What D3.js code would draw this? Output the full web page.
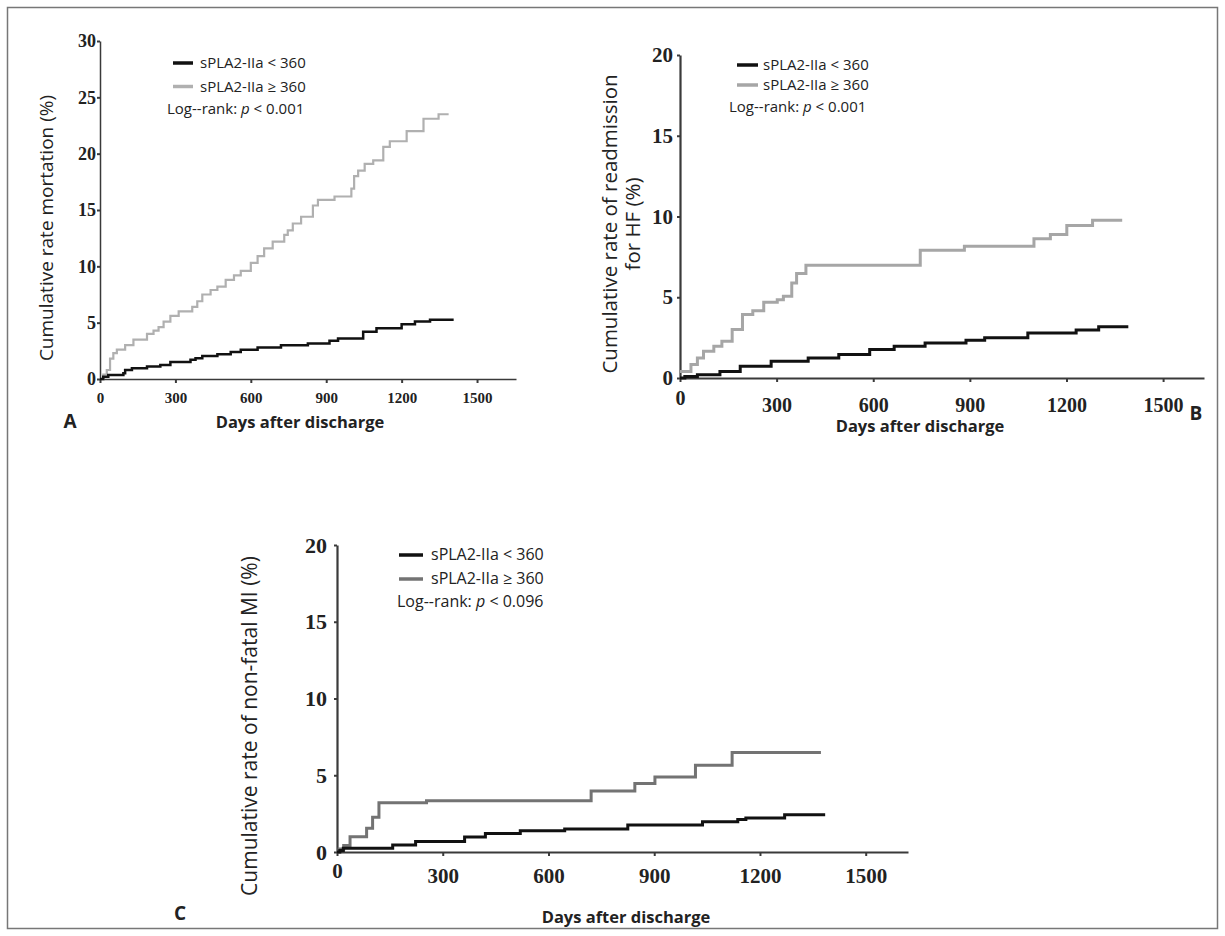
<!DOCTYPE html>
<html>
<head>
<meta charset="utf-8">
<script src="https://cdn.jsdelivr.net/npm/d3@7"></script>
<style>
  body { margin: 0; background: #fff; }
</style>
</head>
<body>
<div id="fig"></div>
<script>
// Tick labels
const dayTicks = [0, 300, 600, 900, 1200, 1500];
const yTicksMort = [0, 5, 10, 15, 20, 25, 30];
const yTicksRate = [0, 5, 10, 15, 20];

// Legend / text
const groupLabels = ["sPLA2-IIa < 360", "sPLA2-IIa \u2265 360"];
const pValues = ["0.001", "0.001", "0.096"];
const panelLetters = ["A", "B", "C"];
const yTitles = [
    ["Cumulative rate mortation (%)"],
    ["Cumulative rate of readmission", "for HF (%)"],
    ["Cumulative rate of non-fatal MI (%)"]
];
const xTitle = "Days after discharge";

// Step curves, [day, cumulative %]
const mortLow = [[0,0],[13,0.2],[33,0.35],[93,0.5],[100,0.8],[127,0.95],[187,1.1],[240,1.25],[280,1.5],
    [360,1.7],[380,1.85],[407,2.05],[467,2.2],[520,2.4],[560,2.6],[627,2.8],[720,3.0],[827,3.15],
    [913,3.4],[947,3.6],[1047,4.2],[1100,4.5],[1200,4.85],[1253,5.1],[1313,5.25],[1407,5.25]];
const mortHigh = [[0,0],[13,0.4],[27,0.8],[40,1.8],[53,2.3],[67,2.6],[100,3.0],[133,3.5],[187,4.0],
    [213,4.3],[233,4.6],[253,5.1],[280,5.6],[313,6.0],[367,6.4],[387,6.9],[407,7.5],[440,7.9],
    [467,8.2],[500,8.8],[533,9.2],[560,9.6],[600,10.3],[627,10.9],[653,11.6],[687,12.2],[733,12.8],
    [747,13.2],[767,13.8],[800,14.4],[847,15.4],[867,15.9],[933,16.2],[1000,16.9],[1011,18.0],
    [1027,18.5],[1053,19.1],[1087,19.4],[1127,20.6],[1153,21.1],[1220,22.0],[1287,23.1],[1347,23.5],[1387,23.5]];

const hfLow = [[0,0],[15,0.1],[54,0.2],[124,0.4],[187,0.72],[283,1.03],[398,1.24],[493,1.45],
    [589,1.76],[665,1.96],[761,2.17],[888,2.33],[946,2.5],[1080,2.78],[1230,2.97],[1300,3.18],[1392,3.18]];
const hfHigh = [[0,0.4],[34,0.83],[54,1.24],[73,1.65],[105,1.96],[130,2.27],[162,3.0],[194,3.93],
    [226,4.17],[260,4.69],[302,4.85],[321,5.06],[347,5.89],[362,6.47],[391,6.98],[746,7.91],
    [883,8.16],[1099,8.62],[1150,8.88],[1201,9.44],[1281,9.77],[1373,9.77]];

const miLow = [[0,0],[8,0.1],[18,0.25],[158,0.46],[223,0.68],[362,0.97],[421,1.21],[520,1.38],
    [646,1.5],[825,1.76],[1037,1.97],[1137,2.11],[1160,2.22],[1270,2.42],[1385,2.42]];
const miHigh = [[0,0],[6,0.2],[19,0.43],[37,1.0],[84,1.54],[101,2.26],[119,3.21],[254,3.34],
    [721,3.98],[845,4.46],[902,4.89],[1017,5.65],[1121,6.48],[1373,6.48]];

// Layout of the three panels (pixels)
const panels = [
    { x0: 100, x1: 516, xMax: 1655, y0: 379, y1: 41, yMax: 30, yTicks: yTicksMort,
      low: mortLow, high: mortHigh, highColor: "#b0b0b0", lowW: 2.5, highW: 2.2, axisW: 1.5,
      xFont: 15, yFont: 18, xPad: 9, yPad: 1, zeroShift: 0,
      legend: { lx: 173, lx2: 193, y: 63, tx: 200, dy: 23.5, px: 167, py: 114, font: 15 },
      title: { x: 53, y: 228, font: 19 },
      xt: { x: 300, y: 428 }, letter: { x: 70, y: 428 } },
    { x0: 680, x1: 1204, xMax: 1627, y0: 378, y1: 55, yMax: 20, yTicks: yTicksRate,
      low: hfLow, high: hfHigh, highColor: "#a6a6a6", lowW: 3, highW: 3, axisW: 2.2,
      xFont: 20, yFont: 21, xPad: 16, yPad: 4, zeroShift: -7,
      legend: { lx: 737, lx2: 758, y: 65, tx: 763, dy: 20, px: 729, py: 112, font: 15 },
      title: { x: 617, y: 224, font: 20.5, dx: 23 },
      xt: { x: 920, y: 432 }, letter: { x: 1196, y: 420 } },
    { x0: 337, x1: 908, xMax: 1620, y0: 852, y1: 545, yMax: 20, yTicks: yTicksRate,
      low: miLow, high: miHigh, highColor: "#737373", lowW: 3, highW: 3, axisW: 2.2,
      xFont: 21, yFont: 22, xPad: 12, yPad: 7, zeroShift: -5,
      legend: { lx: 399, lx2: 423, y: 555, tx: 431, dy: 24, px: 397, py: 607, font: 16 },
      title: { x: 257, y: 726, font: 21 },
      xt: { x: 626, y: 923 }, letter: { x: 180, y: 920 } }
];

const W = 1225, H = 936;
const svg = d3.select("#fig").append("svg")
    .attr("width", W)
    .attr("height", H);

// outer frame
svg.append("rect")
    .attr("x", 7.5).attr("y", 7.5)
    .attr("width", W - 15).attr("height", H - 15)
    .attr("fill", "none")
    .attr("stroke", "#777")
    .attr("stroke-width", 1.5);

const sans = "'Open Sans', 'Noto Sans', sans-serif";
const serif = "'Liberation Serif', 'Times New Roman', serif";

function drawPanel(p, i) {
    const g = svg.append("g");
    const x = d3.scaleLinear().domain([0, p.xMax]).range([p.x0, p.x1]);
    const y = d3.scaleLinear().domain([0, p.yMax]).range([p.y0, p.y1]);

    // axes
    const xAxis = g.append("g")
        .attr("transform", `translate(0,${p.y0})`)
        .call(d3.axisBottom(x).tickValues(dayTicks).tickFormat(d3.format("d"))
            .tickSize(4).tickSizeOuter(0).tickPadding(p.xPad));
    const yAxis = g.append("g")
        .attr("transform", `translate(${p.x0},0)`)
        .call(d3.axisLeft(y).tickValues(p.yTicks).tickFormat(d3.format("d"))
            .tickSize(3).tickSizeOuter(0).tickPadding(p.yPad));

    [xAxis, yAxis].forEach(a => {
        a.select(".domain").attr("stroke", "#3a3a3a").attr("stroke-width", p.axisW);
        a.selectAll(".tick line").attr("stroke", "#3a3a3a").attr("stroke-width", 2);
        a.selectAll("text")
            .attr("font-family", serif)
            .attr("font-weight", "bold")
            .attr("fill", "#222");
    });
    xAxis.selectAll("text").attr("font-size", p.xFont);
    yAxis.selectAll("text").attr("font-size", p.yFont);
    xAxis.selectAll(".tick").filter(d => d === 0).select("text")
        .attr("transform", `translate(0,${p.zeroShift})`);

    // curves
    const line = d3.line()
        .x(d => x(d[0]))
        .y(d => y(d[1]))
        .curve(d3.curveStepAfter);
    g.append("path").datum(p.high)
        .attr("fill", "none").attr("stroke", p.highColor)
        .attr("stroke-width", p.highW).attr("d", line);
    g.append("path").datum(p.low)
        .attr("fill", "none").attr("stroke", "#111")
        .attr("stroke-width", p.lowW).attr("d", line);

    // legend
    const L = p.legend;
    [["#111", groupLabels[0]], [p.highColor, groupLabels[1]]].forEach(([c, t], k) => {
        const yy = L.y + k * L.dy;
        g.append("line")
            .attr("x1", L.lx).attr("x2", L.lx2)
            .attr("y1", yy).attr("y2", yy)
            .attr("stroke", c).attr("stroke-width", 3.5);
        g.append("text")
            .attr("x", L.tx).attr("y", yy + 5)
            .attr("font-family", sans).attr("font-size", L.font)
            .attr("fill", "#222")
            .text(t);
    });
    const pt = g.append("text")
        .attr("x", L.px).attr("y", L.py)
        .attr("font-family", sans).attr("font-size", L.font)
        .attr("fill", "#222");
    pt.append("tspan").text("Log--rank: ");
    pt.append("tspan").attr("font-style", "italic").text("p");
    pt.append("tspan").text(" < " + pValues[i]);

    // y title
    yTitles[i].forEach((t, k) => {
        g.append("text")
            .attr("transform", `translate(${p.title.x + k * (p.title.dx || 0)},${p.title.y}) rotate(-90)`)
            .attr("text-anchor", "middle")
            .attr("font-family", sans).attr("font-size", p.title.font)
            .attr("fill", "#222")
            .text(t);
    });

    // x title and panel letter
    g.append("text")
        .attr("x", p.xt.x).attr("y", p.xt.y)
        .attr("text-anchor", "middle")
        .attr("font-family", sans).attr("font-size", 16.5)
        .attr("font-weight", "bold").attr("fill", "#222")
        .text(xTitle);
    g.append("text")
        .attr("x", p.letter.x).attr("y", p.letter.y)
        .attr("text-anchor", "middle")
        .attr("font-family", sans).attr("font-size", 19)
        .attr("font-weight", "bold").attr("fill", "#222")
        .text(panelLetters[i]);
}

panels.forEach(drawPanel);
</script>
</body>
</html>
